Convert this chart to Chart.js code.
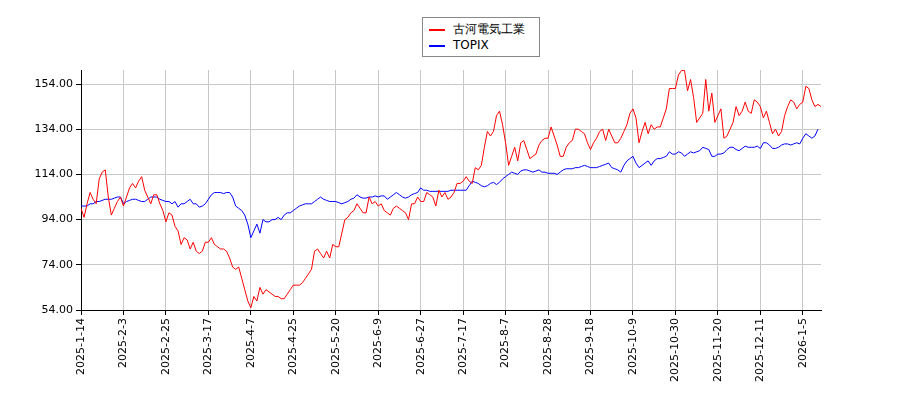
<!DOCTYPE html>
<html><head><meta charset="utf-8">
<script src="https://cdn.jsdelivr.net/npm/chart.js@4"></script>
<style>
body{margin:0;background:#fff;}
#wrap{position:relative;width:900px;height:400px;}
#legend{position:absolute;left:422px;top:17px;width:116px;height:38px;border:1px solid #888;background:#fff;font-family:"DejaVu Sans";font-size:12px;}
.item{position:absolute;left:6px;height:16px;line-height:16px;}
.item span{display:inline-block;width:16px;height:0;border-top:2px solid;vertical-align:middle;margin-right:8px;}
</style></head><body>
<div id="wrap"><canvas id="c" width="900" height="400"></canvas>
<div id="legend"><div class="item" style="top:3px"><span style="border-color:#f00"></span>古河電気工業</div><div class="item" style="top:19px"><span style="border-color:#00f"></span>TOPIX</div></div></div>
<script>
const tickLabels=["2025-1-14","2025-2-3","2025-2-25","2025-3-17","2025-4-7","2025-4-25","2025-5-20","2025-6-9","2025-6-27","2025-7-17","2025-8-7","2025-8-28","2025-9-18","2025-10-9","2025-10-30","2025-11-20","2025-12-11","2026-1-5"];
const tickStep=14;
const yTicks=[54,74,94,114,134,154];
const furukawa=[99,95,101,106,103,101,112,115,116,104,96,99,102,104,
100,104,108,110,108,111,113,107,104,101,105,105,101,98,
93,97,96,91,89,83,86,85,81,84,80,79,80,84,
84,86,83,82,81,81,80,77,73,72,73,68,63,58,
55,60,58,64,61,63,62,61,60,60,59,59,61,63,
65,65,65,66,68,70,72,80,81,79,77,80,77,83,
82,82,88,94,95,97,98,101,99,97,97,104,101,102,
100,101,98,97,96,99,100,99,98,97,94,101,101,104,
102,102,106,105,104,100,107,104,106,103,104,106,110,110,
111,113,111,110,117,116,118,126,133,131,133,140,142,136,
128,118,122,126,120,128,129,125,121,122,123,127,129,130,
130,135,131,127,122,122,126,128,129,134,134,133,132,128,
125,128,130,133,134,129,134,131,128,128,130,133,136,141,
143,139,128,133,137,132,136,134,135,135,139,143,152,152,
152,158,160,160,151,156,148,137,139,141,156,142,150,137,
140,143,130,131,134,137,144,140,142,146,142,141,147,146,
144,139,142,137,132,134,131,133,140,144,147,146,143,145,
146,153,152,147,144,145,144];
const topix=[100,100,100,101,101,102,102,102.5,103,103,103,103.5,104,104,
101,102,102.5,103,103,102.5,102,102,103,104,104,104,103,102.5,
102,102,101,102,99.5,101,101,102,103,101,101,99.5,100,101,
103,105,106,106,106,105.5,106,106,104,100,99,98,96,92,
86,89,92,88,94,93,93,94,94,95,94,96,97,97,
98,99,100,100.5,101,101,101,102,103,104,103,102.5,102,102,
102,101.5,101,101.5,102,103,103.5,105,104,103.5,103.5,104,104,104.5,
104,104.5,104.5,103,104,105,106,105,104,103.5,104,105,105.5,106,
108,107,107,106.5,106.5,106.5,106.5,106.5,106.5,106.5,107,107,107,107,
107,107,109,111,110.5,110,109,108.5,109,110,110.5,109.5,110.5,112,
113,114,115,114.5,114,115.5,116,116,115.5,115,115.5,116,115,115,
114.5,114.5,114.5,114,115,116,116.5,116.5,116.5,117,117,117.5,118,117.5,
117,117,117,117.5,118,118.5,119,117,116.5,116,115,118,120,121,
122,119,117,118,119,120,118,120,121,121,121.5,122,124,123,
123,124,123.5,122,123,124,123.5,124,124.5,126,125.5,125,122,122,
123,123,123.5,125,126,126,125,124.5,125.5,126.5,126,126,126,126.5,
125.5,128,128,127,125.5,125.5,126,127,127.5,127.5,127,127.5,128,127.5,
130,132,131,130,131,134];
const pts=a=>a.map((v,i)=>({x:i,y:v}));
new Chart(document.getElementById('c'),{
 type:'line',
 data:{datasets:[
  {data:pts(furukawa),borderColor:'#ff0000',borderWidth:1,pointRadius:0,tension:0},
  {data:pts(topix),borderColor:'#0000ff',borderWidth:1,pointRadius:0,tension:0}]},
 options:{responsive:false,animation:false,
  layout:{padding:{top:70,right:79,left:0,bottom:0}},
  plugins:{legend:{display:false},tooltip:{enabled:false}},
  scales:{
   x:{type:'linear',min:0,max:furukawa.length-1,
    afterBuildTicks:ax=>{ax.ticks=tickLabels.map((l,i)=>({value:i*tickStep}));},
    afterFit:ax=>{ax.height=90;},
    ticks:{autoSkip:false,maxRotation:90,minRotation:90,color:'#000',font:{family:'DejaVu Sans',size:11},
     callback:(v)=>tickLabels[Math.round(v/tickStep)]},
    grid:{color:'#c8c8c8',tickColor:'#000',tickLength:5},border:{color:'#000'}},
   y:{min:54,max:160.2,
    afterBuildTicks:ax=>{ax.ticks=yTicks.map(v=>({value:v}));},
    afterFit:ax=>{ax.width=81;},
    ticks:{color:'#000',font:{family:'DejaVu Sans',size:11},callback:v=>v.toFixed(2)},
    grid:{color:'#c8c8c8',tickColor:'#000',tickLength:5},border:{color:'#000'}}
  }}});
</script></body></html>
